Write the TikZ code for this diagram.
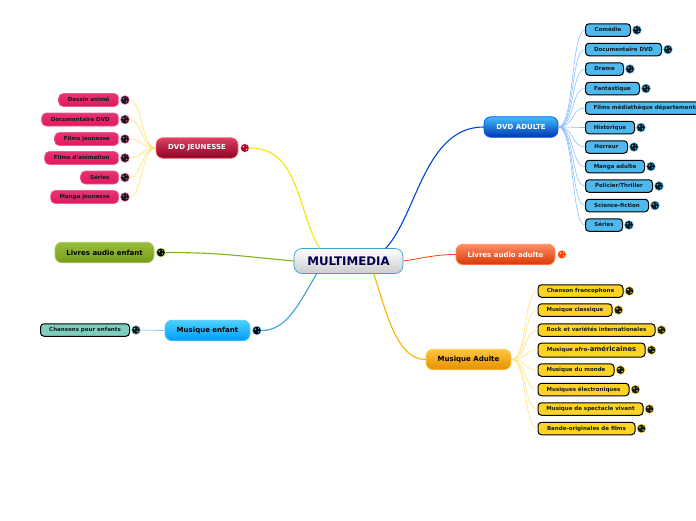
\documentclass[tikz,border=0pt]{standalone}
\usepackage{fontspec}
\setmainfont{DejaVu Sans}
\usepackage{tikz}
\usetikzlibrary{positioning}

\definecolor{dvdblue}{HTML}{4FB8EC}
\definecolor{musicyellow}{HTML}{FFD324}
\definecolor{kidspink}{HTML}{E2185E}
\definecolor{songteal}{HTML}{7FCDBB}
\definecolor{audiogreen}{HTML}{86B01A}
\definecolor{inkdark}{HTML}{101820}

\tikzset{
    topic/.style={rounded corners=7pt, inner sep=0pt, minimum height=20.5pt, font=\fontsize{7}{8}\selectfont\bfseries, line width=0.8pt},
    leaf/.style={anchor=west, rounded corners=3.5pt, inner sep=0pt, minimum height=12.5pt, text height=4.4pt, text depth=0.9pt, draw=black, line width=1pt, text=inkdark, font=\fontsize{5.5}{6}\selectfont\bfseries},
    pinkleaf/.style={anchor=east, rounded corners=4.5pt, inner sep=0pt, minimum height=13pt, text height=4.4pt, text depth=0.9pt, draw=kidspink!70!white, line width=0.6pt, top color=kidspink!88!white, bottom color=kidspink, text=inkdark, font=\fontsize{5.5}{6}\selectfont\bfseries},
    globe/.style n args={2}{circle, inner sep=0pt, minimum size=9.5pt, fill=#1, path picture={
        \fill[#2, shift={(path picture bounding box.center)}] (0pt,0pt) circle (3.9pt);
        \fill[#1, shift={(path picture bounding box.center)}] (-1.4pt,1.3pt) circle (0.9pt) (1.6pt,-1.4pt) circle (0.8pt) (1.7pt,2pt) circle (0.5pt);
    }},
    branch/.style={line width=1.1pt, line cap=round},
    twig/.style={line width=0.6pt}
}

\begin{document}
\begin{tikzpicture}[x=1pt,y=-1pt]
    \clip (0,0) rectangle (696,520);

    % centre
    \node[rounded corners=8pt, draw=blue!25!cyan!60!gray, line width=0.7pt, top color=white, bottom color=black!20, minimum width=109pt, minimum height=25pt, inner sep=0pt, text=blue!30!black, font=\fontsize{11.8}{13}\selectfont\bfseries] (root) at (348.5,261) {MULTIMEDIA};

    % main topics
    \node[topic, minimum width=74pt, draw=blue!65!cyan, top color=blue!35!cyan!75!white, bottom color=blue!70!cyan!70!black, text=white] (dvdadulte) at (521,127) {DVD ADULTE};
    \node[topic, minimum width=82pt, draw=red!45!pink, top color=purple!75!red!75!white, bottom color=purple!80!red!70!black, text=white] (dvdjeunesse) at (197,148) {DVD JEUNESSE};
    \node[topic, minimum width=99pt, draw=audiogreen!70!white, top color=audiogreen!85!white, bottom color=audiogreen!90!black, text=black] (audioenfant) at (104.5,252.5) {Livres audio enfant};
    \node[topic, minimum width=85pt, draw=cyan!70!white, top color=cyan!75!blue!70!white, bottom color=cyan!60!blue, text=black] (musiqueenfant) at (207.5,330.5) {Musique enfant};
    \node[topic, minimum width=85pt, draw=orange!60!yellow!70!white, top color=orange!60!yellow!75!white, bottom color=orange!75!yellow!90!black, text=black] (musiqueadulte) at (468.5,359.5) {Musique Adulte};
    \node[topic, minimum width=99pt, draw=orange!70!red!70!white, top color=orange!50!red!60!white, bottom color=orange!50!red!85!black, text=white] (audioadulte) at (505.5,254.5) {Livres audio adulte};

    % globes next to the topics
    \node[globe={red!15!white}{purple!80!red!80!black}, right=1.5pt of dvdjeunesse] (gjeunesse) {};
    \node[globe={audiogreen!70!white}{black}, right=1.5pt of audioenfant] (gaudioenfant) {};
    \node[globe={cyan!60!white}{black}, right=1.5pt of musiqueenfant] (gmusiqueenfant) {};
    \node[globe={orange!20!white}{orange!50!red}, right=1.5pt of audioadulte] (gaudioadulte) {};

    % DVD adulte
    \node[leaf, minimum width=45pt, fill=dvdblue] (comedie) at (585,30) {Comédie};
    \node[globe={dvdblue}{inkdark}, right=1pt of comedie] (gcomedie) {};
    \node[leaf, minimum width=76pt, fill=dvdblue] (documentaire) at (585,49.5) {Documentaire DVD};
    \node[globe={dvdblue}{inkdark}, right=1pt of documentaire] (gdocumentaire) {};
    \node[leaf, minimum width=38pt, fill=dvdblue] (drame) at (585,69) {Drame};
    \node[globe={dvdblue}{inkdark}, right=1pt of drame] (gdrame) {};
    \node[leaf, minimum width=54pt, fill=dvdblue] (fantastique) at (585,88.5) {Fantastique};
    \node[globe={dvdblue}{inkdark}, right=1pt of fantastique] (gfantastique) {};
    \node[leaf, minimum width=127pt, fill=dvdblue] (mediatheque) at (585,108) {Films médiathèque départementale};
    \node[leaf, minimum width=49pt, fill=dvdblue] (historique) at (585,127.5) {Historique};
    \node[globe={dvdblue}{inkdark}, right=1pt of historique] (ghistorique) {};
    \node[leaf, minimum width=42pt, fill=dvdblue] (horreur) at (585,147) {Horreur};
    \node[globe={dvdblue}{inkdark}, right=1pt of horreur] (ghorreur) {};
    \node[leaf, minimum width=59pt, fill=dvdblue] (manga) at (585,166.5) {Manga adulte};
    \node[globe={dvdblue}{inkdark}, right=1pt of manga] (gmanga) {};
    \node[leaf, minimum width=67pt, fill=dvdblue] (policier) at (585,186) {Policier/Thriller};
    \node[globe={dvdblue}{inkdark}, right=1pt of policier] (gpolicier) {};
    \node[leaf, minimum width=63pt, fill=dvdblue] (science) at (585,205.5) {Science-fiction};
    \node[globe={dvdblue}{inkdark}, right=1pt of science] (gscience) {};
    \node[leaf, minimum width=37pt, fill=dvdblue] (series) at (585,225) {Séries};
    \node[globe={dvdblue}{inkdark}, right=1pt of series] (gseries) {};

    % DVD jeunesse
    \node[pinkleaf, minimum width=60pt] (dessin) at (119,100) {Dessin animé};
    \node[globe={kidspink!70!white}{inkdark}, right=1pt of dessin] (gdessin) {};
    \node[pinkleaf, minimum width=77pt] (docjeunesse) at (119,119.5) {Documentaire DVD};
    \node[globe={kidspink!70!white}{inkdark}, right=1pt of docjeunesse] (gdocjeunesse) {};
    \node[pinkleaf, minimum width=64pt] (filmsjeunesse) at (119,139) {Films jeunesse};
    \node[globe={kidspink!70!white}{inkdark}, right=1pt of filmsjeunesse] (gfilmsjeunesse) {};
    \node[pinkleaf, minimum width=74pt] (animation) at (119,158) {Films d'animation};
    \node[globe={kidspink!70!white}{inkdark}, right=1pt of animation] (ganimation) {};
    \node[pinkleaf, minimum width=38pt] (seriesj) at (119,177.5) {Séries};
    \node[globe={kidspink!70!white}{inkdark}, right=1pt of seriesj] (gseriesj) {};
    \node[pinkleaf, minimum width=68pt] (mangaj) at (119,197) {Manga jeunesse};
    \node[globe={kidspink!70!white}{inkdark}, right=1pt of mangaj] (gmangaj) {};

    % Musique adulte
    \node[leaf, minimum width=85pt, fill=musicyellow] (chanson) at (537.5,291) {Chanson francophone};
    \node[globe={musicyellow}{inkdark}, right=1pt of chanson] (gchanson) {};
    \node[leaf, minimum width=74pt, fill=musicyellow] (classique) at (537.5,310) {Musique classique};
    \node[globe={musicyellow}{inkdark}, right=1pt of classique] (gclassique) {};
    \node[leaf, minimum width=117pt, fill=musicyellow] (rock) at (537.5,330) {Rock et variétés internationales};
    \node[globe={musicyellow}{inkdark}, right=1pt of rock] (grock) {};
    \node[leaf, minimum width=107pt, minimum height=14pt, fill=musicyellow] (afro) at (537.5,350) {Musique afro-{\fontsize{6.8}{7}\selectfont américaines}};
    \node[globe={musicyellow}{inkdark}, right=1pt of afro] (gafro) {};
    \node[leaf, minimum width=76pt, fill=musicyellow] (monde) at (537.5,370) {Musique du monde};
    \node[globe={musicyellow}{inkdark}, right=1pt of monde] (gmonde) {};
    \node[leaf, minimum width=91pt, fill=musicyellow] (electro) at (537.5,389.5) {Musiques électroniques};
    \node[globe={musicyellow}{inkdark}, right=1pt of electro] (gelectro) {};
    \node[leaf, minimum width=105pt, fill=musicyellow] (spectacle) at (537.5,409) {Musique de spectacle vivant};
    \node[globe={musicyellow}{inkdark}, right=1pt of spectacle] (gspectacle) {};
    \node[leaf, minimum width=97pt, fill=musicyellow] (bande) at (537.5,428.5) {Bande-originales de films};
    \node[globe={musicyellow}{inkdark}, right=1pt of bande] (gbande) {};

    % Musique enfant
    \node[leaf, minimum width=89pt, fill=songteal] (chansons) at (40,330) {Chansons pour enfants};
    \node[globe={songteal}{inkdark}, right=1pt of chansons] (gchansons) {};

    % branches from the centre
    \draw[branch, draw=blue!70!cyan!85!black] (root.19) .. controls +(31,-33) and +(-59,0) .. (dvdadulte.west);
    \draw[branch, draw=yellow!85!orange] (root.156) .. controls +(-22,-35) and +(50,0) .. (gjeunesse.east);
    \draw[branch, draw=audiogreen] (root.west) .. controls +(-55,-5) and +(55,0) .. (gaudioenfant.east);
    \draw[branch, draw=cyan!75!blue!80!white] (root.-158) .. controls +(-18,30) and +(25,0) .. (gmusiqueenfant.east);
    \draw[branch, draw=orange!60!yellow] (root.-27) .. controls +(12,35) and +(-30,0) .. (musiqueadulte.west);
    \draw[branch, line width=0.8pt, draw=orange!50!red] (root.east) .. controls +(20,-3) and +(-20,0) .. (audioadulte.west);

    % twigs of DVD adulte
    \foreach \leafname in {comedie,documentaire,drame,fantastique,mediatheque,historique,horreur,manga,policier,science,series}
        \draw[twig, draw=blue!55!cyan!45!white] (dvdadulte.east) .. controls +(16,0) and +(-14,0) .. (\leafname.west);

    % twigs of DVD jeunesse
    \foreach \leafname in {gdessin,gdocjeunesse,gfilmsjeunesse,ganimation,gseriesj,gmangaj}
        \draw[twig, draw=yellow!70!orange!60!white] (dvdjeunesse.west) .. controls +(-14,0) and +(12,0) .. (\leafname.east);

    % twigs of Musique adulte
    \foreach \leafname in {chanson,classique,rock,afro,monde,electro,spectacle,bande}
        \draw[twig, draw=orange!45!yellow!50!white] (musiqueadulte.east) .. controls +(16,0) and +(-14,0) .. (\leafname.west);

    % twig of Musique enfant
    \draw[twig, line width=0.8pt, draw=cyan!50!white] (musiqueenfant.west) -- (gchansons.east);

\end{tikzpicture}
\end{document}
